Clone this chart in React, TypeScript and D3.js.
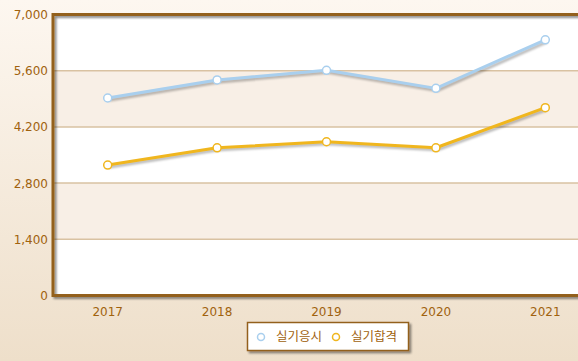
import React from "react";
import * as d3 from "d3";

const years = ["2017", "2018", "2019", "2020", "2021"];
const applicants = [4920, 5370, 5610, 5160, 6370];
const passed = [3250, 3680, 3830, 3680, 4680];
const yTicks = [0, 1400, 2800, 4200, 5600, 7000];
const seriesNames = ["실기응시", "실기합격"];

const W = 578;
const H = 361;
const left = 53;
const right = 600;
const top = 14.5;
const bottom = 295.5;

const BROWN = "#93601c";
const LABEL = "#a0620e";
const BLUE = "#a9cfee";
const YELLOW = "#f0b61e";

export default function App() {
  const x = d3.scaleBand<string>().domain(years).range([left, right]).padding(0);
  const y = d3.scaleLinear().domain([0, 7000]).range([bottom, top]);
  const cx = (d: string) => (x(d) as number) + x.bandwidth() / 2;

  const line = d3
    .line<number>()
    .x((_, i) => cx(years[i]))
    .y((v) => y(v));

  const series = [
    { name: seriesNames[0], values: applicants, color: BLUE },
    { name: seriesNames[1], values: passed, color: YELLOW },
  ];

  const bands = yTicks.slice(0, -1).map((t, i) => ({ from: t, to: yTicks[i + 1], fill: i % 2 === 1 ? "#f8efe6" : "#ffffff" }));

  return (
    <svg
      width={W}
      height={H}
      style={{ position: "fixed", left: 0, top: 0, display: "block" }}
      fontFamily="'DejaVu Sans', Verdana, sans-serif"
    >
      <defs>
        <linearGradient id="bg" x1="0" y1="0" x2="0" y2="1">
          <stop offset="0" stopColor="#fdf7f0" />
          <stop offset="1" stopColor="#eedfca" />
        </linearGradient>
        <filter id="sh" x="-10%" y="-10%" width="130%" height="130%">
          <feGaussianBlur in="SourceAlpha" stdDeviation="1" />
          <feOffset dx="1.5" dy="1.5" result="o" />
          <feComponentTransfer>
            <feFuncA type="linear" slope="0.45" />
          </feComponentTransfer>
          <feMerge>
            <feMergeNode />
            <feMergeNode in="SourceGraphic" />
          </feMerge>
        </filter>
      </defs>
      <rect x={0} y={0} width={W} height={H} fill="url(#bg)" />

      {/* plot background bands */}
      {bands.map((b, i) => (
        <rect key={i} x={left} y={y(b.to)} width={right - left} height={y(b.from) - y(b.to)} fill={b.fill} />
      ))}
      {/* gridlines */}
      {yTicks.slice(1, -1).map((t) => (
        <line key={t} x1={left} x2={right} y1={y(t)} y2={y(t)} stroke="#d9c2a2" strokeWidth={1.5} />
      ))}
      {/* plot border */}
      <rect
        x={left}
        y={top}
        width={right - left}
        height={bottom - top}
        fill="none"
        stroke={BROWN}
        strokeWidth={3}
        filter="url(#sh)"
      />

      {/* y labels */}
      {yTicks.map((t) => (
        <text key={t} x={48} y={y(t) + 4.5} textAnchor="end" fontSize={12} fill={LABEL}>
          {d3.format(",")(t)}
        </text>
      ))}
      {/* x labels */}
      {years.map((yr) => (
        <text key={yr} x={cx(yr)} y={315.5} textAnchor="middle" fontSize={12} fill={LABEL}>
          {yr}
        </text>
      ))}

      {/* series */}
      {series.map((s) => (
        <g key={s.name}>
          <path
            d={line(s.values) || ""}
            fill="none"
            stroke="#000"
            strokeOpacity={0.28}
            strokeWidth={3}
            transform="translate(1.5,2)"
            style={{ filter: "blur(0.8px)" }}
          />
          <path d={line(s.values) || ""} fill="none" stroke={s.color} strokeWidth={3} strokeLinejoin="round" />
          {s.values.map((v, i) => (
            <circle key={i} cx={cx(years[i])} cy={y(v)} r={4} fill="#fff" stroke={s.color} strokeWidth={1.5} />
          ))}
        </g>
      ))}

      {/* legend */}
      <g>
        <rect x={247.5} y={322.5} width={161} height={28} fill="#fff" stroke={BROWN} strokeWidth={1.5} filter="url(#sh)" />
        <circle cx={261} cy={337} r={3.5} fill="#fff" stroke={BLUE} strokeWidth={1.5} />
        <text x={276} y={341} fontSize={12.5} fill={LABEL} fontFamily="'Noto Sans CJK KR', sans-serif">
          {seriesNames[0]}
        </text>
        <circle cx={336} cy={337} r={3.5} fill="#fff" stroke={YELLOW} strokeWidth={1.5} />
        <text x={351} y={341} fontSize={12.5} fill={LABEL} fontFamily="'Noto Sans CJK KR', sans-serif">
          {seriesNames[1]}
        </text>
      </g>
    </svg>
  );
}
